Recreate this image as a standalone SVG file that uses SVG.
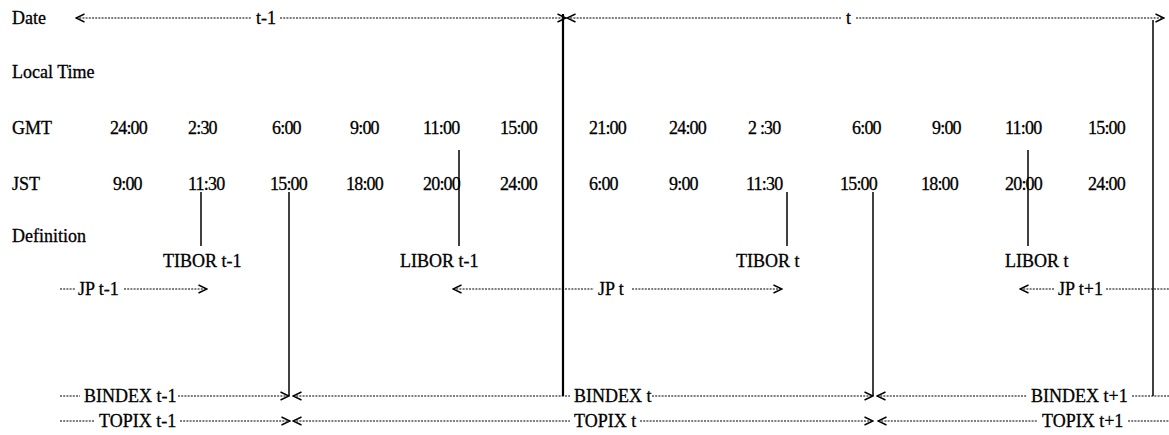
<svg xmlns="http://www.w3.org/2000/svg" width="1169" height="435" viewBox="0 0 1169 435">
<style>
text{font-family:"Liberation Serif","Times New Roman",serif;font-size:18px;fill:#000;stroke:#000;stroke-width:0.3}
.num{letter-spacing:-0.8px}
.dot{stroke:#000;stroke-width:1.1;stroke-dasharray:2 1.2;fill:none}
.vl{stroke:#000;stroke-width:1.5;fill:none}
.vb{stroke:#000;stroke-width:2.2;fill:none}
</style>
<defs>
<marker id="ah" viewBox="0 0 10 10" refX="9.3" refY="5" markerWidth="10" markerHeight="10" markerUnits="userSpaceOnUse" orient="auto-start-reverse">
<path d="M0.8,1 L9.3,5 L0.8,9" fill="none" stroke="#000" stroke-width="1.4"/>
</marker>
</defs>
<rect width="1169" height="435" fill="#fff"/>

<g id="row-labels">
<text x="12" y="24">Date</text>
<text x="12" y="78">Local Time</text>
<text x="12" y="134">GMT</text>
<text x="12" y="190">JST</text>
<text x="12" y="242">Definition</text>
</g>

<g id="date-labels">
<text x="256" y="24">t-1</text>
<text x="846" y="24">t</text>
</g>

<g id="gmt-times" class="num">
<text x="110" y="134">24:00</text>
<text x="188" y="134">2:30</text>
<text x="272" y="134">6:00</text>
<text x="350" y="134">9:00</text>
<text x="423" y="134">11:00</text>
<text x="500" y="134">15:00</text>
<text x="589" y="134">21:00</text>
<text x="669" y="134">24:00</text>
<text x="748" y="134">2 :30</text>
<text x="852" y="134">6:00</text>
<text x="932" y="134">9:00</text>
<text x="1005" y="134">11:00</text>
<text x="1088" y="134">15:00</text>
</g>

<g id="jst-times" class="num">
<text x="113" y="190">9:00</text>
<text x="188" y="190">11:30</text>
<text x="270" y="190">15:00</text>
<text x="346" y="190">18:00</text>
<text x="423" y="190">20:00</text>
<text x="500" y="190">24:00</text>
<text x="589" y="190">6:00</text>
<text x="669" y="190">9:00</text>
<text x="746" y="190">11:30</text>
<text x="840" y="190">15:00</text>
<text x="921" y="190">18:00</text>
<text x="1005" y="190">20:00</text>
<text x="1088" y="190">24:00</text>
</g>

<g id="tibor-t-1"><text x="163" y="267">TIBOR t-1</text></g>
<g id="libor-t-1"><text x="400" y="267">LIBOR t-1</text></g>
<g id="tibor-t"><text x="736" y="267">TIBOR t</text></g>
<g id="libor-t"><text x="1005" y="267">LIBOR t</text></g>

<g id="jp-t-1"><text x="78" y="295">JP t-1</text></g>
<g id="jp-t"><text x="598" y="295">JP t</text></g>
<g id="jp-t+1"><text x="1058" y="295">JP t+1</text></g>

<g id="bindex-t-1"><text x="84" y="402">BINDEX t-1</text></g>
<g id="bindex-t"><text x="574" y="402">BINDEX t</text></g>
<g id="bindex-t+1"><text x="1031" y="402">BINDEX t+1</text></g>

<g id="topix-t-1"><text x="99" y="427">TOPIX t-1</text></g>
<g id="topix-t"><text x="574" y="427">TOPIX t</text></g>
<g id="topix-t+1"><text x="1042" y="427">TOPIX t+1</text></g>

<g id="connectors">
<line class="dot" x1="76" y1="18" x2="252" y2="18" marker-start="url(#ah)"/>
<line class="dot" x1="280" y1="18" x2="566" y2="18" marker-end="url(#ah)"/>
<line class="dot" x1="567" y1="18" x2="842" y2="18" marker-start="url(#ah)"/>
<line class="dot" x1="856" y1="18" x2="1164" y2="18" marker-end="url(#ah)"/>
<line class="vb" x1="563" y1="14" x2="563" y2="396"/>
<line class="vl" x1="1153" y1="20" x2="1153" y2="396"/>
<line class="vl" x1="289" y1="192" x2="289" y2="396"/>
<line class="vl" x1="873" y1="192" x2="873" y2="396"/>
<line class="vl" x1="201" y1="192" x2="201" y2="246"/>
<line class="vl" x1="459" y1="150" x2="459" y2="246"/>
<line class="vl" x1="787" y1="192" x2="787" y2="246"/>
<line class="vl" x1="1028" y1="150" x2="1028" y2="246"/>
<line class="dot" x1="60" y1="289" x2="75" y2="289"/>
<line class="dot" x1="124" y1="289" x2="207" y2="289" marker-end="url(#ah)"/>
<line class="dot" x1="453" y1="289" x2="594" y2="289" marker-start="url(#ah)"/>
<line class="dot" x1="632" y1="289" x2="782" y2="289" marker-end="url(#ah)"/>
<line class="dot" x1="1020" y1="289" x2="1054" y2="289" marker-start="url(#ah)"/>
<line class="dot" x1="1106" y1="289" x2="1169" y2="289"/>
<line class="dot" x1="60" y1="396" x2="80" y2="396"/>
<line class="dot" x1="178" y1="396" x2="289" y2="396" marker-end="url(#ah)"/>
<line class="dot" x1="293" y1="396" x2="570" y2="396" marker-start="url(#ah)"/>
<line class="dot" x1="652" y1="396" x2="873" y2="396" marker-end="url(#ah)"/>
<line class="dot" x1="877" y1="396" x2="1027" y2="396" marker-start="url(#ah)"/>
<line class="dot" x1="1132" y1="396" x2="1169" y2="396"/>
<line class="dot" x1="60" y1="421" x2="95" y2="421"/>
<line class="dot" x1="180" y1="421" x2="290" y2="421" marker-end="url(#ah)"/>
<line class="dot" x1="293" y1="421" x2="570" y2="421" marker-start="url(#ah)"/>
<line class="dot" x1="640" y1="421" x2="873" y2="421" marker-end="url(#ah)"/>
<line class="dot" x1="878" y1="421" x2="1038" y2="421" marker-start="url(#ah)"/>
<line class="dot" x1="1128" y1="421" x2="1169" y2="421"/>
</g>
</svg>
